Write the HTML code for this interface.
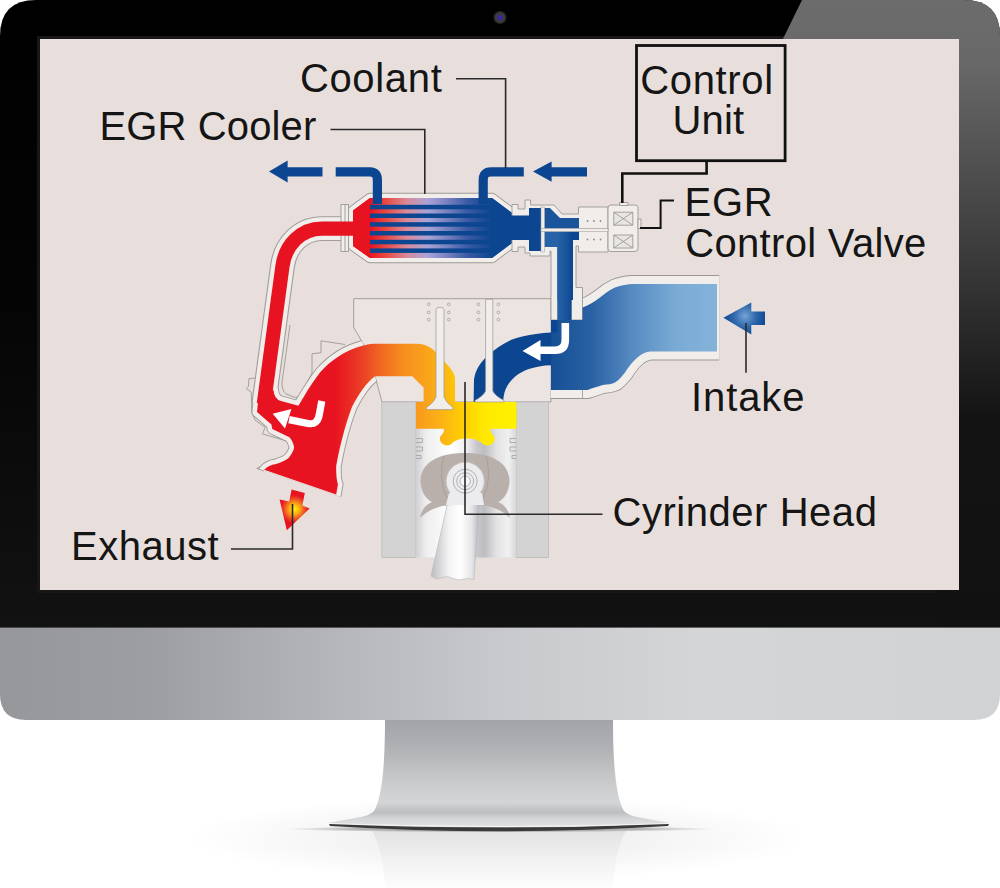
<!DOCTYPE html>
<html>
<head>
<meta charset="utf-8">
<style>
html,body{margin:0;padding:0;background:#fff;}
body{width:1000px;height:888px;overflow:hidden;position:relative;font-family:"Liberation Sans",sans-serif;}
svg{position:absolute;left:0;top:0;display:block;}
text{font-family:"Liberation Sans",sans-serif;fill:#151515;}
</style>
</head>
<body>
<svg width="1000" height="888" viewBox="0 0 1000 888">
<defs>
  <linearGradient id="chin" x1="0" x2="1" y1="0" y2="0">
    <stop offset="0" stop-color="#95979b"/>
    <stop offset="0.15" stop-color="#9c9ea2"/>
    <stop offset="0.35" stop-color="#b7b8bc"/>
    <stop offset="0.5" stop-color="#c8c9cc"/>
    <stop offset="0.7" stop-color="#d4d5d7"/>
    <stop offset="1" stop-color="#d1d2d4"/>
  </linearGradient>
  <linearGradient id="glare" x1="0" x2="0" y1="0" y2="1">
    <stop offset="0" stop-color="#6c6c6c"/>
    <stop offset="0.1" stop-color="#686868"/>
    <stop offset="0.4" stop-color="#3c3c3c"/>
    <stop offset="0.66" stop-color="#141414"/>
    <stop offset="1" stop-color="#111111"/>
  </linearGradient>
  <linearGradient id="bez" x1="0" x2="0" y1="0" y2="1">
    <stop offset="0" stop-color="#000"/>
    <stop offset="0.5" stop-color="#050505"/>
    <stop offset="1" stop-color="#121212"/>
  </linearGradient>
  <linearGradient id="neck" gradientUnits="userSpaceOnUse" x1="0" x2="0" y1="720" y2="830">
    <stop offset="0" stop-color="#a3a4a7"/>
    <stop offset="0.25" stop-color="#b0b1b4"/>
    <stop offset="0.55" stop-color="#c8c9cb"/>
    <stop offset="0.75" stop-color="#d4d5d7"/>
    <stop offset="0.84" stop-color="#bdbec0"/>
    <stop offset="0.9" stop-color="#d6d7d9"/>
    <stop offset="1" stop-color="#e4e4e6"/>
  </linearGradient>
  <linearGradient id="refl" gradientUnits="userSpaceOnUse" x1="0" x2="0" y1="830" y2="888">
    <stop offset="0" stop-color="#e2e2e3"/>
    <stop offset="0.5" stop-color="#f1f1f2"/>
    <stop offset="1" stop-color="#fdfdfd"/>
  </linearGradient>
  <radialGradient id="floorsh" gradientUnits="userSpaceOnUse" cx="499" cy="829" r="215" gradientTransform="translate(0 829) scale(1 0.015) translate(0 -829)">
    <stop offset="0" stop-color="#000" stop-opacity="0.75"/>
    <stop offset="0.66" stop-color="#000" stop-opacity="0.6"/>
    <stop offset="1" stop-color="#000" stop-opacity="0"/>
  </radialGradient>
  <clipPath id="body"><path d="M36 0H964Q1000 0 1000 36V694Q1000 720 974 720H26Q0 720 0 694V36Q0 0 36 0Z"/></clipPath>
  <clipPath id="scr"><rect x="40" y="39" width="919" height="551"/></clipPath>
  <radialGradient id="floor" cx="0.5" cy="0.5" r="0.5">
    <stop offset="0" stop-color="#e9e9e9"/>
    <stop offset="1" stop-color="#ffffff"/>
  </radialGradient>
</defs>

<!-- floor reflection -->
<ellipse cx="498" cy="838" rx="310" ry="42" fill="url(#floor)"/>
<path d="M372 831H626C618 845 614 865 613 888H385C384 865 380 845 372 831Z" fill="url(#refl)"/>
<ellipse cx="499" cy="829" rx="215" ry="3.2" fill="url(#floorsh)" opacity="0.45"/>
<path d="M329 824Q500 831 669 824L668 826Q500 836.5 330 826Z" fill="#3a3a3a"/>

<!-- stand -->
<path d="M385 720H613C613 765 616 798 624 811C628 815 634 816.5 640 817.5L670 823Q500 831 328 823L358 817.5C364 816.5 370 815 374 811C382 798 385 765 385 720Z" fill="url(#neck)"/>
<path d="M328 823Q500 829 670 823Q500 831 328 823Z" fill="#f6f6f7"/>

<!-- body -->
<g clip-path="url(#body)">
  <rect x="0" y="0" width="1000" height="628" fill="url(#bez)"/>
  <rect x="37" y="36" width="925" height="557" fill="#171717"/>
  <path d="M802 0H1000V628H940 C930 400 800 200 753 100Z" fill="url(#glare)"/>
  <rect x="0" y="627.6" width="1000" height="93" fill="url(#chin)"/>
</g>
<circle cx="500" cy="17.5" r="6.8" fill="#1e1e1e"/>
<circle cx="500" cy="17.5" r="5.4" fill="#3b3d3b"/>
<circle cx="500" cy="17.5" r="2.7" fill="#3f25a5"/>

<!-- screen -->
<rect x="40" y="39" width="919" height="551" fill="#e8dfdc"/>
<g id="diagram" clip-path="url(#scr)">
<!--PIPES-START-->
<defs>
  <linearGradient id="gHot" gradientUnits="userSpaceOnUse" x1="335" x2="516" y1="0" y2="0">
    <stop offset="0" stop-color="#e81320"/>
    <stop offset="0.14" stop-color="#ea3c26"/>
    <stop offset="0.25" stop-color="#f06722"/>
    <stop offset="0.36" stop-color="#f58a1f"/>
    <stop offset="0.47" stop-color="#f99d1c"/>
    <stop offset="0.58" stop-color="#fbb116"/>
    <stop offset="0.72" stop-color="#ffd200"/>
    <stop offset="0.83" stop-color="#ffe900"/>
    <stop offset="1" stop-color="#fff100"/>
  </linearGradient>
  <linearGradient id="gCool" gradientUnits="userSpaceOnUse" x1="370" x2="492" y1="0" y2="0">
    <stop offset="0" stop-color="#e81320"/>
    <stop offset="0.12" stop-color="#e9453f"/>
    <stop offset="0.3" stop-color="#d98a97"/>
    <stop offset="0.47" stop-color="#aaa4d6"/>
    <stop offset="0.62" stop-color="#7c84c2"/>
    <stop offset="0.8" stop-color="#3a5aa3"/>
    <stop offset="1" stop-color="#0c4690"/>
  </linearGradient>
  <linearGradient id="gIntake" gradientUnits="userSpaceOnUse" x1="551" x2="717" y1="0" y2="0">
    <stop offset="0" stop-color="#174f95"/>
    <stop offset="0.25" stop-color="#2a62a4"/>
    <stop offset="0.5" stop-color="#588cc3"/>
    <stop offset="0.75" stop-color="#7aabd5"/>
    <stop offset="1" stop-color="#84b3da"/>
  </linearGradient>
  <linearGradient id="gEgrPipe" gradientUnits="userSpaceOnUse" x1="557" x2="572" y1="0" y2="0">
    <stop offset="0" stop-color="#2663a8"/>
    <stop offset="0.6" stop-color="#1a559c"/>
    <stop offset="1" stop-color="#0c4690"/>
  </linearGradient>
  <radialGradient id="gExArrow" gradientUnits="userSpaceOnUse" cx="294.5" cy="509" r="14">
    <stop offset="0" stop-color="#fff200"/>
    <stop offset="0.35" stop-color="#fbb116"/>
    <stop offset="0.75" stop-color="#ee4a24"/>
    <stop offset="1" stop-color="#e81320"/>
  </radialGradient>
  <radialGradient id="gInArrow" gradientUnits="userSpaceOnUse" cx="745" cy="316" r="22">
    <stop offset="0" stop-color="#74a4d4"/>
    <stop offset="0.5" stop-color="#2f68ab"/>
    <stop offset="1" stop-color="#0c4690"/>
  </radialGradient>
  <linearGradient id="gPiston" gradientUnits="userSpaceOnUse" x1="416" x2="516.5" y1="0" y2="0">
    <stop offset="0" stop-color="#d0d0d3"/>
    <stop offset="0.1" stop-color="#eeeeef"/>
    <stop offset="0.35" stop-color="#ffffff"/>
    <stop offset="0.5" stop-color="#f0f0f1"/>
    <stop offset="0.6" stop-color="#c9c9cd"/>
    <stop offset="0.68" stop-color="#bcbcc1"/>
    <stop offset="0.8" stop-color="#e2e2e4"/>
    <stop offset="0.92" stop-color="#f0f0f1"/>
    <stop offset="1" stop-color="#d6d6d9"/>
  </linearGradient>
  <linearGradient id="gRod" gradientUnits="userSpaceOnUse" x1="433" x2="479" y1="0" y2="0">
    <stop offset="0" stop-color="#c2c2c6"/>
    <stop offset="0.35" stop-color="#f4f4f5"/>
    <stop offset="0.6" stop-color="#ffffff"/>
    <stop offset="0.85" stop-color="#e4e4e6"/>
    <stop offset="1" stop-color="#b9b9be"/>
  </linearGradient>

  <!-- shapes reused for shell outline -->
  <path id="egrPipe" d="M354 228.6L322 228.6C301 228.6 285.3 245 282.5 266L264.6 398L263.8 404" fill="none"/>
  <path id="manifold" d="M273.5 390Q274 399 281 401L298.4 405.7C303 398 311 384 320 372.4C330 361 345 350 363.3 345.4C370 344 372 343.75 375 343.75L417.6 343.75C424 344 429 346 433 349.5L448 365.5C452 370 454.5 374 455 378L455 402L424.3 402L423.6 402L423.6 387.4L412.3 376.2L375 376.2C366 383 358 395 352 407C345 425 339 450 336.2 466C336 475 337 482 338 484L336.2 494.5L264.2 469.7C268 466 272 464.5 275 464.3C283 462 288 459 289.4 457C293 452 294.5 449 293.9 446.3C293 442 291 439 289.4 437.2L272.3 429L271.4 424.6L257 412L258.5 398Z"/>
  <path id="coolerIn" d="M353 210.5L370 198H492L512 213V243L492 258H370L353 246Z"/>
  <path id="intake" d="M551 320H582.5V307.5C588 305.5 594 302 600 297.5C604 294 609 290.5 615 287.5C620 285.5 626 284.5 632 284H717V351.5H650C645 352.5 641 354 637.5 357.5C633 361 629 366 625 372.5C622 376 619 380 615 382.5C612 384 608 384.5 602.5 385C598 386.5 593 388 587.5 390H551Z"/>
  <path id="port" d="M551 320H557.5V332.4H551.2V365.2C543 365.4 535 366.8 528 369.2C523 371 519 373.5 515.2 376.4C511 380 508 384 505.6 389.2C504 393 503.4 397 503.2 402H473.6L474 379.6C474.6 375 476 371 478.4 366.8C481.5 362 485 358 489.6 354C496 348.5 503 343.5 512 339.6C519 337 527 335 536 334C541 333 546 332.6 551 332.4Z"/>
  <clipPath id="clipX"><path d="M200 200H353.7V327.5L362.5 342.5L375 376L382 402V511.1L200 448.4Z"/></clipPath>
  <clipPath id="clipM"><rect x="550.6" y="268" width="168.6" height="140"/></clipPath>
</defs>

<!-- ===== casting outlines (thin gray) ===== -->
<g fill="#ebe4e1" stroke="#9b9895" stroke-width="0.9" stroke-linejoin="round">
  <!-- cylinder head outline -->
  <path d="M353.7 298.7H551V402H382L375 376L362.5 342.5L353.7 327.5Z"/>
  <!-- casting bumps between pipe and manifold -->
  <path d="M345 344.5L321 340.8V352.7L312 353.8V373L300.8 394.3Q298 398.5 293 396.8L286 393.8Q282 390.5 281.9 383L290 325" fill="none"/>
  <!-- left casting -->
  <path d="M258 377.8L249 378.6L248.4 386.4L246.2 388.7L251.3 392L251.8 412.3L255 420L265 427.5L262.5 434L287 441L292 452L284 462L262 466L256.8 468.4L264 471" fill="none"/>
</g>

<!-- ===== shells (light band with gray outline) ===== -->
<g fill="none" stroke-linejoin="round" stroke-linecap="butt">
  <use href="#egrPipe" stroke="#a19d9a" stroke-width="24.8"/>
  <use href="#manifold" stroke="#9b9895" stroke-width="11" fill="#9b9895" clip-path="url(#clipX)"/>
  <use href="#coolerIn" stroke="#9b9895" stroke-width="10.4" fill="#9b9895"/>
  <use href="#intake" stroke="#9b9895" stroke-width="18" fill="#9b9895" stroke-linejoin="miter" clip-path="url(#clipM)"/>
  <use href="#egrPipe" stroke="#f1edea" stroke-width="22.6"/>
  <use href="#manifold" stroke="#f1edea" stroke-width="9.2" fill="#f1edea" clip-path="url(#clipX)"/>
  <use href="#coolerIn" stroke="#f1edea" stroke-width="8.6" fill="#f1edea"/>
  <use href="#intake" stroke="#f1edea" stroke-width="16.2" fill="#f1edea" stroke-linejoin="miter" clip-path="url(#clipM)"/>
</g>
<!-- cooler left flange -->
<g fill="#f1edea" stroke="#9b9895" stroke-width="0.9">
  <rect x="341" y="204.5" width="7.5" height="47"/>
  <line x1="345" y1="204.5" x2="345" y2="251.5"/>
</g>

<!-- cylinder block -->
<rect x="381.8" y="402" width="34.2" height="155.5" fill="#d3d3d4" stroke="#b9b9ba" stroke-width="0.8"/>
<rect x="516.5" y="402" width="32.1" height="155.5" fill="#d3d3d4" stroke="#b9b9ba" stroke-width="0.8"/>
<!-- piston -->
<rect x="416" y="428.8" width="100.5" height="128.7" fill="url(#gPiston)"/>
<!-- con rod -->
<path d="M449 497L431 576L437 579L447 576.5L458 580L468 578.5L473.8 579.5L479.5 497Z" fill="url(#gRod)" stroke="#b5b5b8" stroke-width="0.6"/>
<!-- crank pin boss -->
<path d="M420.5 482C420 463 438 453 465 453C492 453 510 463 509.5 482C509 492 504 499 498 502C505 505 509 511 510 518C500 508 488 505 476 505L454 505C442 505 430 508 420 518C421 511 425 505 432 502C426 499 421 492 420.5 482Z" fill="#b9afab"/>
<path d="M444 456C440 470 441 486 447 498M486 456C490 470 489 486 483 498" fill="none" stroke="#a39995" stroke-width="0.8"/>
<circle cx="465.2" cy="481.2" r="19" fill="#ececee" stroke="#c8c8cb" stroke-width="0.8"/>
<path d="M449 493L446 505L484 505L482 493Z" fill="#ececee"/>
<circle cx="465.2" cy="481.2" r="12" fill="none" stroke="#a9a9ad" stroke-width="0.9"/>
<circle cx="465.2" cy="481.2" r="8.5" fill="none" stroke="#a9a9ad" stroke-width="0.9"/>
<circle cx="465.2" cy="481.2" r="5.2" fill="#f6f6f7" stroke="#a9a9ad" stroke-width="0.9"/>
<!-- piston ring grooves -->
<g fill="#f4f4f5" stroke="#9a9a9d" stroke-width="0.7">
  <path d="M416 438.5H422.5V442.5H416M416 447H422.5V451H416M416 455.5H421V458.5H416" fill="none"/>
  <path d="M516.5 438.5H510V442.5H516.5M516.5 447H510V451H516.5M516.5 455.5H512V458.5H516.5" fill="none"/>
</g>

<!-- combustion chamber + bowl -->
<path d="M416 402H516.5V428.8H491C490 431 491 433 493 435C495.5 437.5 495 441 492.5 443.5C489.5 446 485 446 482.5 443.5C479 440 474 438.5 467 438.5C460 438.5 455 440 452 443.5C449.5 446 445 446 442 443.5C439.5 441 439 437.5 441.5 435C443.5 433 444.5 431 443.5 428.8H416Z" fill="url(#gHot)"/>

<!-- ===== coloured flows ===== -->
<use href="#egrPipe" stroke="#e81320" stroke-width="14.2" fill="none"/>
<use href="#manifold" fill="url(#gHot)"/>

<!-- cooler -->
<use href="#coolerIn" fill="url(#gCool)"/>
<path d="M353 210.5L370 198V258L353 246Z" fill="#e81320"/>
<path d="M492 198L512 213V243L492 258H490V198Z" fill="#0c4690"/>
<g fill="#0c4690">
  <rect x="370" y="204.8" width="124" height="4.5"/>
  <rect x="370" y="213.5" width="124" height="4.5"/>
  <rect x="370" y="222.2" width="124" height="4.5"/>
  <rect x="370" y="231" width="124" height="4.5"/>
  <rect x="370" y="239.8" width="124" height="4.5"/>
  <rect x="370" y="248.4" width="124" height="4.5"/>
</g>
<!-- coolant pipes -->
<g fill="none" stroke="#0c4690" stroke-width="9.2">
  <path d="M335.7 171.8H370Q377.4 171.8 377.4 180V204"/>
  <path d="M523.8 171.8H491Q483.2 171.8 483.2 180V204"/>
  <path d="M287 171.8H322.5"/>
  <path d="M551 171.8H587"/>
</g>
<path d="M269 171.6L287.6 160.6V182.4Z" fill="#0c4690"/>
<path d="M533 171.6L551.6 161.4V181.8Z" fill="#0c4690"/>

<!-- EGR valve body -->
<g fill="#f1edea" stroke="#9b9895" stroke-width="0.9" stroke-linejoin="round">
  <path d="M512 204.5H518V209H525V200H530.5V205H554L562 214H578.5V207H608V252H578.5V246H576V287.5H582.5V320H571.3V246H557.5V320H551V251H550V256H530V253H525V247H518V251.5H512Z"/>
  <rect x="608" y="205" width="30" height="46.5" rx="3"/>
  <rect x="619.5" y="202.5" width="8.5" height="3"/>
  <rect x="638" y="219" width="3" height="9.5"/>
  <rect x="613.8" y="212.2" width="19" height="13" fill="#e9e5e2"/>
  <rect x="613.8" y="235" width="19" height="13" fill="#e9e5e2"/>
  <path d="M613.8 212.2L632.8 225.2M632.8 212.2L613.8 225.2M613.8 235L632.8 248M632.8 235L613.8 248" fill="none"/>
  <path d="M578.5 229H608" fill="none"/>
</g>
<g fill="#8d8a88">
  <circle cx="587.5" cy="221" r="0.9"/><circle cx="594" cy="221" r="0.9"/><circle cx="600.5" cy="221" r="0.9"/>
  <circle cx="587.5" cy="239.5" r="0.9"/><circle cx="594" cy="239.5" r="0.9"/><circle cx="600.5" cy="239.5" r="0.9"/>
</g>
<!-- blue inside valve -->
<path d="M510 215.4H529V208H541V251H529V240H510Z" fill="#0c4690"/>
<path d="M544.4 208H550L560 218H579V228.6H544.4Z" fill="#1a559c"/>
<path d="M544.4 231.4H579V240H573V300H557.5V247H544.4Z" fill="url(#gEgrPipe)"/>
<rect x="557.5" y="240" width="14" height="82" fill="url(#gEgrPipe)"/>
<rect x="541" y="207" width="3.4" height="45" fill="#f1edea" stroke="#9b9895" stroke-width="0.5"/>
<rect x="541" y="228.6" width="67" height="2.8" fill="#f1edea" stroke="#9b9895" stroke-width="0.5"/>

<!-- intake manifold + port -->
<path d="M582.5 390V398.6" stroke="#9b9895" stroke-width="0.8" fill="none"/>
<use href="#intake" fill="url(#gIntake)"/>
<use href="#port" fill="#0c4690"/>

<!-- valves -->
<g fill="#f1edea" stroke="#9b9895" stroke-width="0.7">
  <path d="M436 309.5Q436 307.3 440 307.3Q444 307.3 444 309.5V397Q446 402.5 453 407.5V409.6H426.5V407.5Q434 402.5 436 397Z"/>
  <path d="M485.6 299.3H492.8V391Q495 396 504 400.4V402H475V400.4Q483.5 396 485.6 391Z"/>
</g>
<g fill="none" stroke="#9b9895" stroke-width="0.7">
  <circle cx="428.8" cy="304.4" r="1.4"/><circle cx="428.8" cy="312.4" r="1.4"/><circle cx="428.8" cy="319.6" r="1.4"/>
  <circle cx="448.8" cy="304.4" r="1.4"/><circle cx="448.8" cy="312.4" r="1.4"/><circle cx="448.8" cy="319.6" r="1.4"/>
  <circle cx="478.4" cy="304.4" r="1.4"/><circle cx="478.4" cy="312.4" r="1.4"/><circle cx="478.4" cy="319.6" r="1.4"/>
  <circle cx="498.4" cy="304.4" r="1.4"/><circle cx="498.4" cy="312.4" r="1.4"/><circle cx="498.4" cy="319.6" r="1.4"/>
</g>

<!-- white flow arrows -->
<g fill="none" stroke="#ffffff" stroke-width="7.6">
  <path d="M565.3 323V340Q565.3 350.2 555 350.2H539"/>
</g>
<path d="M522.5 351L540.5 340V361Z" fill="#fff"/>
<path d="M321.8 401L319.3 414.5Q317.5 425.5 308 423.4L289 419.6" fill="none" stroke="#fff" stroke-width="7.2"/>
<path d="M272.7 413.8L291.4 409L285 428.4Z" fill="#fff"/>

<!-- exhaust / intake arrows -->
<path d="M291.6 489.4L304.8 493L302.4 505.6L309.6 508.6L286.8 530.2L279.6 499.6L289.2 501.4Z" fill="url(#gExArrow)"/>
<path d="M723.4 317.7L751.3 302.4V311.5H765V325.1H751.3V334.4Z" fill="url(#gInArrow)"/>

<!--PIPES-END-->

<!-- LABELS -->
<g id="labels" font-size="40">
<text x="299.9" y="92.0" textLength="141.9">Coolant</text>
<text x="99.5" y="140.0" textLength="216.8">EGR Cooler</text>
<text x="640.3" y="94.0" textLength="132.8">Control</text>
<text x="672.4" y="133.5" textLength="71.7">Unit</text>
<text x="684.5" y="216.0" textLength="88.2">EGR</text>
<text x="685.3" y="257.0" textLength="240.9">Control Valve</text>
<text x="691.0" y="411.1" textLength="113.5">Intake</text>
<text x="612.5" y="526" textLength="264.4">Cyrinder Head</text>
<text x="71.0" y="560.3" textLength="147.5">Exhaust</text>
</g>
<g id="leaders" fill="none" stroke="#2a2a2a" stroke-width="1.6">
<path d="M456 78.7H505.6V168"/>
<path d="M330.5 129.5H424.8V194"/>
<path d="M746 323V372.8"/>
<path d="M465 382V514.3H602.5"/>
<path d="M231 549H292.5V504"/>
</g>
<rect x="636.5" y="45.5" width="148.6" height="115.2" fill="none" stroke="#111" stroke-width="2.8"/>
<path d="M706.6 162V173.5H622.3V203" fill="none" stroke="#111" stroke-width="2.6"/>
<path d="M640 228H660.6V200.6H674" fill="none" stroke="#111" stroke-width="2"/>
</g>
</svg>
</body>
</html>
